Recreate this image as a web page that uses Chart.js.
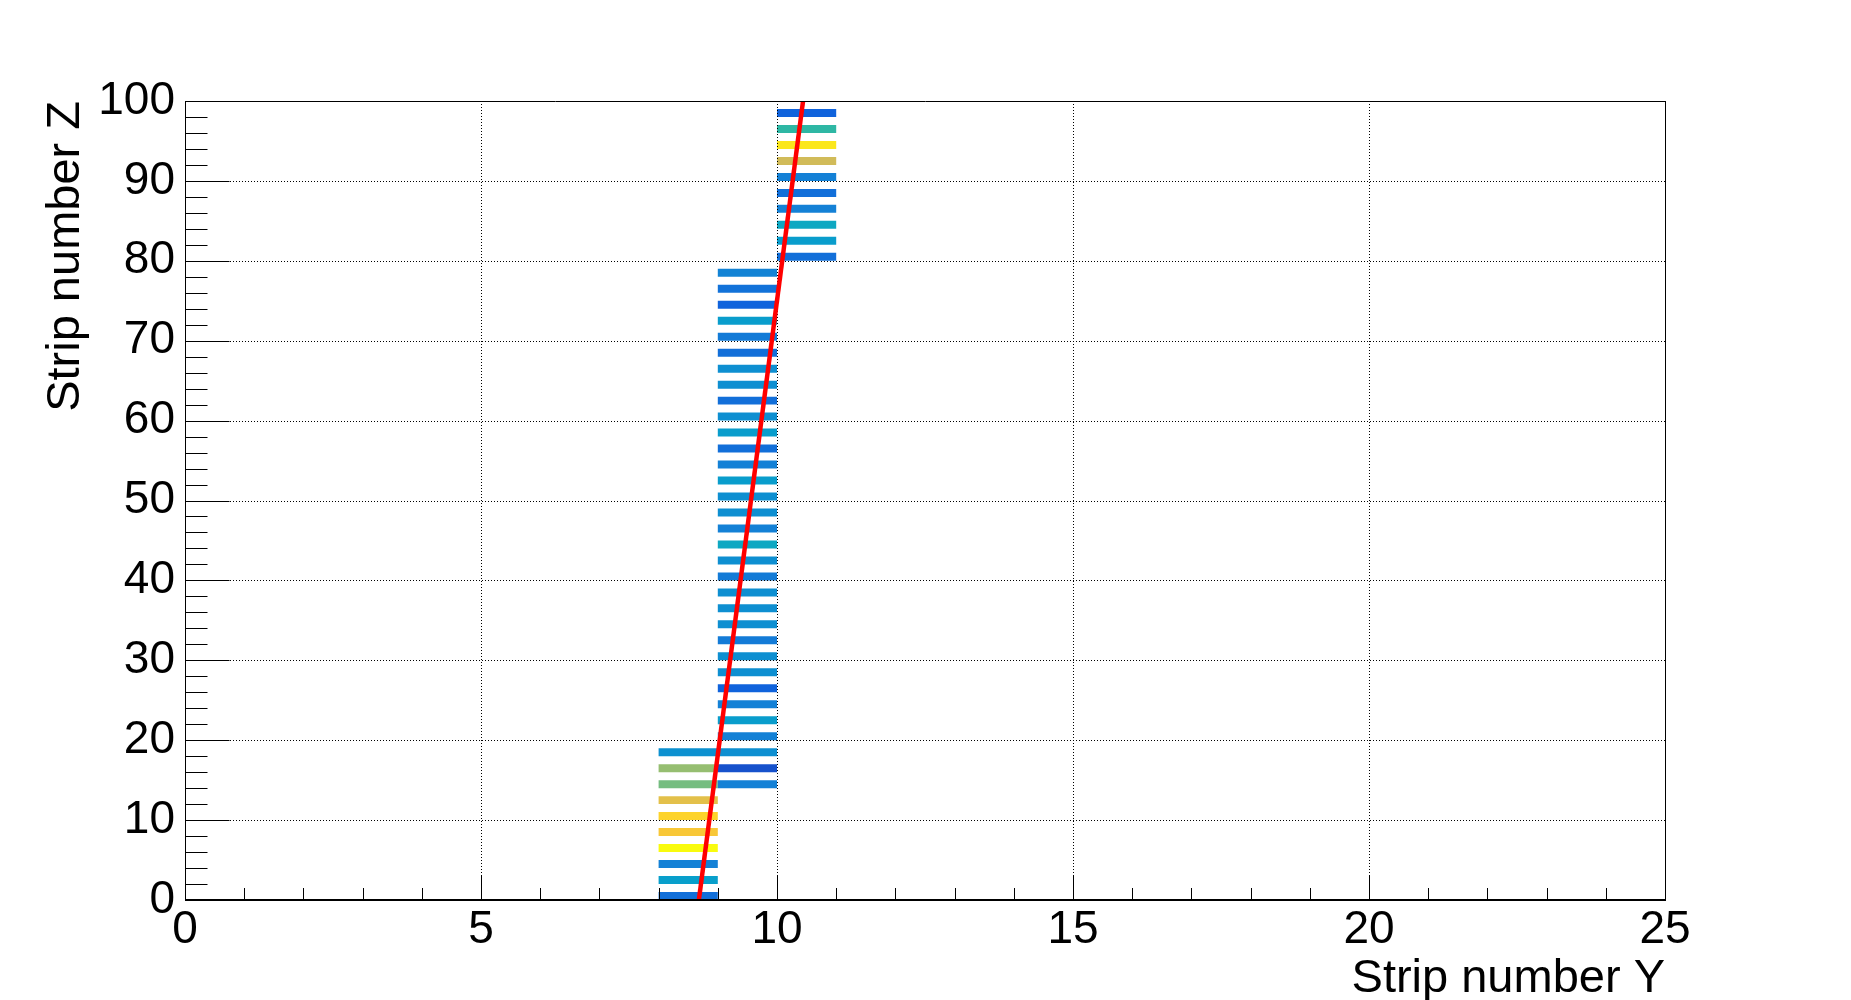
<!DOCTYPE html>
<html>
<head>
<meta charset="utf-8">
<title>Strip number Z vs Strip number Y</title>
<script src="https://cdn.jsdelivr.net/npm/chart.js@4.4.0/dist/chart.umd.min.js"></script>
<style>
  html, body { margin: 0; padding: 0; background: #ffffff; }
  #stripChart { display: block; }
</style>
</head>
<body>
<canvas id="stripChart" width="1851" height="1000"></canvas>
<script>
// Fired Z strips for each Y strip, with their amplitudes
const stripY = [8, 9, 10];

const stripsZ_Y8 = [0, 2, 4, 6, 8, 10, 12, 14, 16, 18];
const amp_Y8 = [19, 36, 25, 100, 86, 90, 80, 60, 65, 31];

const stripsZ_Y9 = [14, 16, 18, 20, 22, 24, 26, 28, 30, 32,
                    34, 36, 38, 40, 42, 44, 46, 48, 50, 52,
                    54, 56, 58, 60, 62, 64, 66, 68, 70, 72,
                    74, 76, 78];
const amp_Y9 = [25, 10, 30, 25, 35, 25, 15, 30, 30, 23,
                30, 30, 30, 23, 30, 40, 25, 30, 30, 35,
                25, 19, 35, 30, 19, 30, 30, 19, 23, 35,
                15, 20, 26];

const stripsZ_Y10 = [80, 82, 84, 86, 88, 90, 92, 94, 96, 98];
const amp_Y10 = [19, 35, 40, 25, 19, 25, 75, 95, 50, 15];

// straight line fit Y(Z) of the track
const fitZ = [0, 100];
const fitY = [8.68, 10.44];

// axis tick labels
const xTickValues = [0, 5, 10, 15, 20, 25];
const yTickValues = [0, 10, 20, 30, 40, 50, 60, 70, 80, 90, 100];
const X_MINOR = 1;
const Y_MINOR = 2;

const AMP_MIN = 0;
const AMP_MAX = 100;

const FAMILY = "'Liberation Sans', Arial, Helvetica, sans-serif";
const TICK_FONT = { family: FAMILY, size: 46 };
const X_TITLE_FONT = { family: FAMILY, size: 47, lineHeight: 0.9 };
const Y_TITLE_FONT = { family: FAMILY, size: 47, lineHeight: 1.1 };

// ROOT kBird palette
const BIRD = [
  [0.000, 0.2082, 0.1664, 0.5293],
  [0.125, 0.0592, 0.3599, 0.8684],
  [0.250, 0.0780, 0.5041, 0.8385],
  [0.375, 0.0232, 0.6419, 0.7914],
  [0.500, 0.1802, 0.7178, 0.6425],
  [0.625, 0.5301, 0.7492, 0.4662],
  [0.750, 0.8186, 0.7328, 0.3499],
  [0.875, 0.9956, 0.7862, 0.1968],
  [1.000, 0.9764, 0.9832, 0.0539]
];

function birdColor(amp) {
  let f = (amp - AMP_MIN) / (AMP_MAX - AMP_MIN);
  f = Math.max(0, Math.min(1, f));
  let i = 0;
  while (i < BIRD.length - 2 && f > BIRD[i + 1][0]) i++;
  const a = BIRD[i], b = BIRD[i + 1];
  const t = (f - a[0]) / (b[0] - a[0]);
  const c = [1, 2, 3].map(k => Math.round((a[k] + (b[k] - a[k]) * t) * 255));
  return `rgb(${c[0]}, ${c[1]}, ${c[2]})`;
}

const columns = [
  { y: stripY[0], z: stripsZ_Y8, amp: amp_Y8 },
  { y: stripY[1], z: stripsZ_Y9, amp: amp_Y9 },
  { y: stripY[2], z: stripsZ_Y10, amp: amp_Y10 }
];

const cells = [];
const cellColors = [];
columns.forEach(col => {
  col.z.forEach((z, i) => {
    cells.push({ x: [col.y, col.y + 1], y: z + 0.5 });
    cellColors.push(birdColor(col.amp[i]));
  });
});

const fitPoints = fitZ.map((z, i) => ({ x: fitY[i], y: z }));

// ROOT style frame: dotted grid, inner ticks, frame box
const rootFrame = {
  id: 'rootFrame',
  afterDatasetDraw(chart, args) {
    if (args.meta.type !== 'bar') return;
    const { ctx, chartArea: a, scales: { x, y } } = chart;
    ctx.save();
    ctx.strokeStyle = '#000000';
    ctx.lineWidth = 1;
    ctx.setLineDash([1, 2]);
    ctx.beginPath();
    xTickValues.forEach(v => {
      const px = Math.round(x.getPixelForValue(v)) + 0.5;
      ctx.moveTo(px, a.top);
      ctx.lineTo(px, a.bottom);
    });
    yTickValues.forEach(v => {
      const py = Math.round(y.getPixelForValue(v)) + 0.5;
      ctx.moveTo(a.left, py);
      ctx.lineTo(a.right, py);
    });
    ctx.stroke();
    ctx.restore();
  },
  afterDraw(chart) {
    const { ctx, chartArea: a, scales: { x, y } } = chart;
    ctx.save();
    ctx.strokeStyle = '#000000';
    ctx.lineWidth = 1;
    ctx.beginPath();
    // frame
    const l = Math.round(a.left) + 0.5, r = Math.round(a.right) + 0.5;
    const t = Math.round(a.top) + 0.5, b = Math.round(a.bottom);
    ctx.moveTo(l, b); ctx.lineTo(l, t); ctx.lineTo(r, t); ctx.lineTo(r, b);
    // x ticks
    for (let v = x.min; v <= x.max; v += X_MINOR) {
      const px = Math.round(x.getPixelForValue(v)) + 0.5;
      const len = xTickValues.includes(v) ? 25 : 12;
      ctx.moveTo(px, b);
      ctx.lineTo(px, b - len);
    }
    // y ticks
    for (let v = y.min; v <= y.max; v += Y_MINOR) {
      const py = Math.round(y.getPixelForValue(v)) + 0.5;
      const len = yTickValues.includes(v) ? 44 : 22;
      ctx.moveTo(l, py);
      ctx.lineTo(l + len, py);
    }
    ctx.stroke();
    // x axis line
    ctx.lineWidth = 2;
    ctx.beginPath();
    ctx.moveTo(a.left, b);
    ctx.lineTo(r + 0.5, b);
    ctx.stroke();
    ctx.restore();
  }
};

new Chart(document.getElementById('stripChart'), {
  type: 'bar',
  data: {
    datasets: [
      {
        type: 'line',
        label: 'fit',
        data: fitPoints,
        borderColor: '#ff0000',
        borderWidth: 4.5,
        pointRadius: 0,
        fill: false,
        order: 0
      },
      {
        type: 'bar',
        label: 'hits',
        indexAxis: 'y',
        data: cells,
        backgroundColor: cellColors,
        borderWidth: 0,
        barPercentage: 1.0,
        categoryPercentage: 0.5,
        order: 1
      }
    ]
  },
  options: {
    responsive: false,
    devicePixelRatio: 1,
    animation: false,
    indexAxis: 'y',
    layout: { padding: { top: 101, right: 186, left: 0, bottom: 0 } },
    plugins: { legend: { display: false }, tooltip: { enabled: false } },
    scales: {
      x: {
        type: 'linear',
        position: 'bottom',
        min: 0,
        max: 25,
        offset: false,
        afterBuildTicks: s => { s.ticks = xTickValues.map(v => ({ value: v })); },
        afterFit: s => { s.height = 100; },
        grid: { display: false, drawTicks: false, tickLength: 0 },
        border: { display: false },
        ticks: { autoSkip: false, maxRotation: 0, padding: 3, color: '#000000', font: TICK_FONT },
        title: {
          display: true,
          text: 'Strip number Y',
          align: 'end',
          color: '#000000',
          font: X_TITLE_FONT,
          padding: { top: 0, bottom: 0 }
        }
      },
      y: {
        type: 'linear',
        position: 'left',
        min: 0,
        max: 100,
        offset: false,
        afterBuildTicks: s => { s.ticks = yTickValues.map(v => ({ value: v })); },
        afterFit: s => { s.width = 185; },
        grid: { display: false, drawTicks: false, tickLength: 0, offset: false },
        border: { display: false },
        ticks: { autoSkip: false, padding: 10, color: '#000000', font: TICK_FONT },
        title: {
          display: true,
          text: 'Strip number Z',
          align: 'end',
          color: '#000000',
          font: Y_TITLE_FONT,
          padding: { top: 40, bottom: 0 }
        }
      }
    }
  },
  plugins: [rootFrame]
});
</script>
</body>
</html>
